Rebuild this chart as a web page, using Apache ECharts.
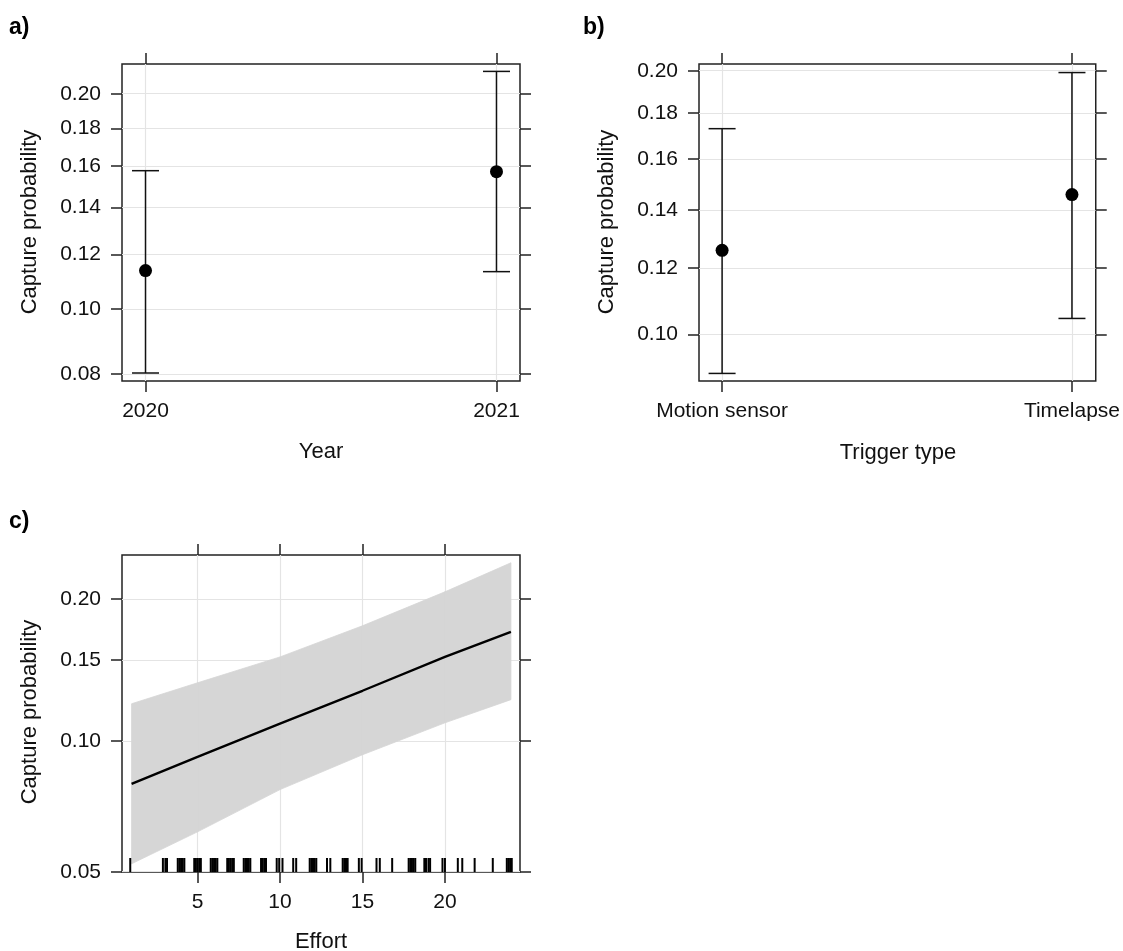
<!DOCTYPE html>
<html>
<head>
<meta charset="utf-8">
<title>Capture probability</title>
<script src="https://cdn.jsdelivr.net/npm/echarts@6/dist/echarts.min.js"></script>
<style>
  html, body { margin: 0; padding: 0; background: #fff; }
  #main { width: 1123px; height: 951px; }
</style>
</head>
<body>
<div id="main"></div>
<script>
// a) 年份
const yearCats = ['2020', '2021']
const yearEst = [0.1138, 0.1571]
const yearLow = [0.0803, 0.1134]
const yearUp = [0.1576, 0.2138]

// b) 触发方式
const triggerCats = ['Motion sensor', 'Timelapse']
const triggerEst = [0.1258, 0.1459]
const triggerLow = [0.0897, 0.1045]
const triggerUp = [0.1730, 0.1991]

// c) 努力量 (拟合线 + 置信带)
const effort = [1, 5, 10, 15, 20, 24]
const effortFit = [0.0800, 0.0921, 0.1092, 0.1289, 0.1522, 0.1716]
const effortLow = [0.0522, 0.0620, 0.0776, 0.0931, 0.1097, 0.1233]
const effortUp = [0.1208, 0.1341, 0.1522, 0.1766, 0.2066, 0.2351]
// rug (抖动后的观测值)
const effortRug = [0.92, 2.9, 3.05, 3.15, 3.8, 3.9, 4.0, 4.1, 4.2, 4.8, 4.9, 5.0, 5.1, 5.2,
  5.8, 5.9, 6.0, 6.1, 6.2, 6.8, 6.9, 7.0, 7.1, 7.2, 7.8, 7.9, 8.0, 8.1, 8.2,
  8.85, 8.95, 9.05, 9.15, 9.8, 9.95, 10.15, 10.8, 10.98, 11.8, 11.9, 12.0, 12.1, 12.2,
  12.85, 13.05, 13.8, 13.9, 14.0, 14.1, 14.78, 14.95, 15.85, 16.05, 16.8,
  17.8, 17.9, 18.0, 18.1, 18.2, 18.75, 18.85, 19.0, 19.1, 19.85, 20.0, 20.78, 21.05,
  21.8, 22.9, 23.75, 23.85, 23.95, 24.05]

// 刻度
const yTicksA = [0.08, 0.10, 0.12, 0.14, 0.16, 0.18, 0.20]
const yTicksB = [0.10, 0.12, 0.14, 0.16, 0.18, 0.20]
const yTicksC = [0.05, 0.10, 0.15, 0.20]
const xTicksC = [5, 10, 15, 20]

const logit = p => Math.log(p / (1 - p))
const invLogit = v => 1 / (1 + Math.exp(-v))

const FONT = 'Liberation Sans, Arial, sans-serif'
const INK = '#111'
const FRAME = '#222'

const grids = [
  { left: 122, top: 64, width: 398, height: 317 },
  { left: 699, top: 64, width: 398, height: 317 },
  { left: 122, top: 555, width: 398, height: 317 }
].map(g => Object.assign(g, { show: true, borderColor: FRAME, borderWidth: 1.5, containLabel: false }))

// 坐标轴: 每个面板四条边都有刻度
function xAxisPair(gridIndex, min, max, ticks, fmt) {
  const base = {
    type: 'value', gridIndex, min, max,
    axisLine: { show: false },
    axisTick: { show: true, length: 11, customValues: ticks, lineStyle: { color: FRAME, width: 1.5 } }
  }
  return [
    Object.assign({}, base, {
      position: 'bottom',
      splitLine: { show: true, lineStyle: { color: '#e4e4e4', width: 1.2 } },
      axisLabel: { show: true, customValues: ticks, formatter: fmt, margin: 20, color: INK, fontSize: 21, fontFamily: FONT }
    }),
    Object.assign({}, base, {
      position: 'top',
      splitLine: { show: false },
      axisLabel: { show: false }
    })
  ]
}

function yAxisPair(gridIndex, min, max, ticks) {
  const vals = ticks.map(logit)
  const base = {
    type: 'value', gridIndex, min, max,
    axisLine: { show: false },
    axisTick: { show: true, length: 11, customValues: vals, lineStyle: { color: FRAME, width: 1.5 } }
  }
  return [
    Object.assign({}, base, {
      position: 'left',
      splitLine: { show: true, lineStyle: { color: '#e4e4e4', width: 1.2 } },
      axisLabel: {
        show: true, customValues: vals, margin: 21, color: INK, fontSize: 21, fontFamily: FONT,
        formatter: v => invLogit(v).toFixed(2)
      }
    }),
    Object.assign({}, base, {
      position: 'right',
      splitLine: { show: false },
      axisLabel: { show: false }
    })
  ]
}

const catFmt = cats => v => cats[Math.round(v) - 1] || ''

const xAxis = [
  ...xAxisPair(0, 0.933, 2.067, [1, 2], catFmt(yearCats)),
  ...xAxisPair(1, 0.934, 2.068, [1, 2], catFmt(triggerCats)),
  ...xAxisPair(2, 0.42, 24.55, xTicksC, v => String(v))
]
const yMinC = -2.946
const yAxis = [
  ...yAxisPair(0, -2.4684, -1.2743, yTicksA),
  ...yAxisPair(1, -2.3406, -1.3656, yTicksB),
  ...yAxisPair(2, yMinC, -1.1352, yTicksC)
]

// 误差线
function errorBars(axisIndex, low, up) {
  return {
    type: 'custom',
    xAxisIndex: axisIndex, yAxisIndex: axisIndex,
    data: low.map((l, i) => [i + 1, logit(l), logit(up[i])]),
    encode: { x: 0, y: [1, 2] },
    renderItem: (params, api) => {
      const x = api.value(0)
      const lo = api.coord([x, api.value(1)])
      const hi = api.coord([x, api.value(2)])
      const cap = 13.5
      const style = { stroke: INK, lineWidth: 1.5 }
      return {
        type: 'group',
        children: [
          { type: 'line', shape: { x1: lo[0], y1: lo[1], x2: hi[0], y2: hi[1] }, style },
          { type: 'line', shape: { x1: lo[0] - cap, y1: lo[1], x2: lo[0] + cap, y2: lo[1] }, style },
          { type: 'line', shape: { x1: hi[0] - cap, y1: hi[1], x2: hi[0] + cap, y2: hi[1] }, style }
        ]
      }
    },
    z: 3
  }
}

function points(axisIndex, est) {
  return {
    type: 'scatter',
    xAxisIndex: axisIndex, yAxisIndex: axisIndex,
    data: est.map((e, i) => [i + 1, logit(e)]),
    symbol: 'circle', symbolSize: 13,
    itemStyle: { color: '#000', opacity: 1 },
    z: 4
  }
}

// 置信带: 相邻两个 effort 之间画一个四边形
const bandData = effort.slice(0, -1).map((e, i) => [
  e, logit(effortLow[i]), logit(effortUp[i]),
  effort[i + 1], logit(effortLow[i + 1]), logit(effortUp[i + 1])
])

const series = [
  errorBars(0, yearLow, yearUp),
  points(0, yearEst),
  errorBars(2, triggerLow, triggerUp),
  points(2, triggerEst),
  {
    type: 'custom', xAxisIndex: 4, yAxisIndex: 4,
    data: bandData,
    encode: { x: [0, 3], y: [1, 2, 4, 5] },
    renderItem: (params, api) => {
      const a1 = api.coord([api.value(0), api.value(1)])
      const a2 = api.coord([api.value(0), api.value(2)])
      const b2 = api.coord([api.value(3), api.value(5)])
      const b1 = api.coord([api.value(3), api.value(4)])
      return {
        type: 'polygon',
        shape: { points: [a1, a2, b2, b1] },
        style: { fill: '#d6d6d6', stroke: '#d6d6d6', lineWidth: 0.8 }
      }
    },
    z: 1
  },
  {
    type: 'line', xAxisIndex: 4, yAxisIndex: 4,
    data: effort.map((e, i) => [e, logit(effortFit[i])]),
    showSymbol: false, symbol: 'none',
    lineStyle: { color: '#000', width: 2.4 },
    z: 3
  },
  {
    type: 'scatter', xAxisIndex: 4, yAxisIndex: 4,
    data: effortRug.map(e => [e, yMinC]),
    symbol: 'rect', symbolSize: [2, 14], symbolOffset: [0, -7],
    itemStyle: { color: '#000', opacity: 1 },
    clip: false,
    z: 3
  }
]

const titleStyle = { fill: INK, font: '22px ' + FONT, textAlign: 'center', textVerticalAlign: 'middle' }
const panelStyle = { fill: '#000', font: 'bold 23px ' + FONT, textAlign: 'left', textVerticalAlign: 'middle' }
const text = (x, y, t, style, rotation) => ({ type: 'text', x, y, rotation: rotation || 0, style: Object.assign({ text: t }, style) })

const graphic = [
  text(9, 28, 'a)', panelStyle),
  text(583, 28, 'b)', panelStyle),
  text(9, 522, 'c)', panelStyle),
  text(321, 452, 'Year', titleStyle),
  text(898, 453, 'Trigger type', titleStyle),
  text(321, 942, 'Effort', titleStyle),
  text(30, 222, 'Capture probability', titleStyle, Math.PI / 2),
  text(607, 222, 'Capture probability', titleStyle, Math.PI / 2),
  text(30, 712, 'Capture probability', titleStyle, Math.PI / 2)
]

const chart = echarts.init(document.getElementById('main'))
chart.setOption({
  animation: false,
  backgroundColor: '#fff',
  grid: grids,
  xAxis,
  yAxis,
  series,
  graphic
})
</script>
</body>
</html>
